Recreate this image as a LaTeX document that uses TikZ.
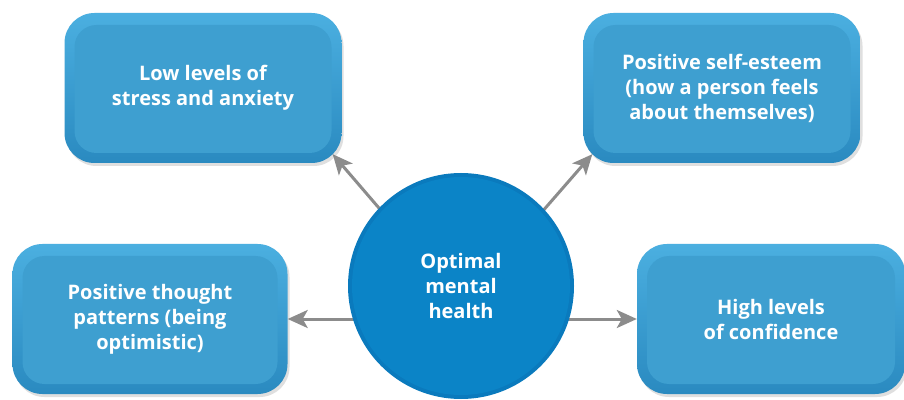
\documentclass[tikz,border=0pt]{standalone}
\usepackage{fontspec}
\setmainfont{Open Sans}
\usetikzlibrary{arrows.meta,shadows,backgrounds,calc}
\definecolor{boxrim}{HTML}{2A8AC0}
\definecolor{boxtop}{HTML}{4BAFE0}
\definecolor{boxface}{HTML}{3E9FD0}
\definecolor{circface}{HTML}{0B84C7}
\definecolor{circrim}{HTML}{0A7ABD}
\definecolor{arrowgray}{HTML}{8C8C8C}
\tikzset{
  infobox/.style={rounded corners=30pt, minimum width=277pt, minimum height=150pt,
    top color=boxtop, bottom color=boxrim,
    drop shadow={opacity=0.25, shadow xshift=2pt, shadow yshift=-3pt},
    text=white, font=\fontsize{20}{25}\selectfont\bfseries, align=center, inner sep=0pt,
    path picture={\fill[boxface, rounded corners=22pt]
      ([xshift=10pt,yshift=10pt]path picture bounding box.south west) rectangle
      ([xshift=-10pt,yshift=-12pt]path picture bounding box.north east);}},
  hub/.style={circle, minimum size=226pt, inner sep=0pt, fill=circrim,
    text=white, font=\fontsize{20}{25}\selectfont\bfseries, align=center,
    path picture={\fill[circface] (path picture bounding box.center) circle (109pt);}},
  conn/.style={draw=arrowgray, line width=3pt,
    -{Stealth[length=20pt, width=18pt, inset=5pt]}}
}
\begin{document}
\begin{tikzpicture}[x=1pt, y=1pt]
\useasboundingbox (0,0) rectangle (904,399);
\node[infobox] (b1) at (203,311) {Low levels of\\stress and anxiety};
\node[infobox] (b2) at (722,311) {Positive self-esteem\\(how a person feels\\about themselves)};
\node[infobox, minimum width=275pt] (b3) at (150,80) {Positive thought\\patterns (being\\optimistic)};
\node[infobox, minimum width=268pt] (b4) at (771,80) {High levels\\of confidence};
\node[hub] (c) at (461,113) {Optimal\\mental\\health};
\coordinate (s1) at ($(c.center)+(-58,50)$);
\coordinate (s2) at ($(c.center)+(60,50)$);
\coordinate (t1) at ($(b1.south east)+(-9,9)$);
\coordinate (t2) at ($(b2.south west)+(9,9)$);
\begin{scope}[on background layer]
\fill[white] (0,0) rectangle (904,399);
\draw[conn] (s1) -- (t1);
\draw[conn] (s2) -- (t2);
\draw[conn] (c.center |- b3.east) -- (b3.east);
\draw[conn] (c.center |- b4.west) -- (b4.west);
\end{scope}
\end{tikzpicture}
\end{document}
